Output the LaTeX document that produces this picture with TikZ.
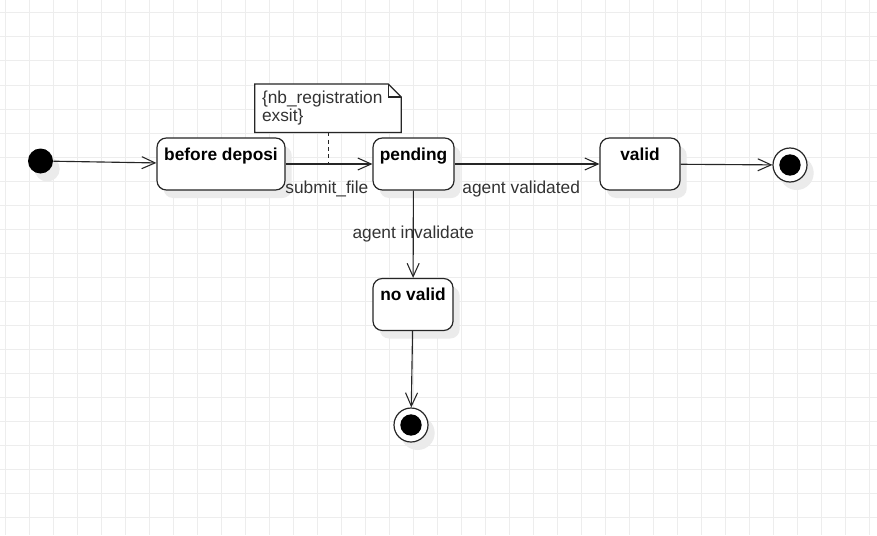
\documentclass[tikz,border=0pt]{standalone}
\usepackage{fontspec}
\setmainfont{Liberation Sans}
\usepackage{tikz}
\usetikzlibrary{arrows.meta,shadows}

\begin{document}
\begin{tikzpicture}[x=0.75pt,y=-0.75pt,font=\fontsize{13}{13.2}\selectfont]

	\tikzstyle{gridline}=[draw=black!7,line width=0.75pt]
	\tikzstyle{shade}=[drop shadow={shadow xshift=5pt,shadow yshift=-6pt,fill=black!8,opacity=1}]
	\tikzstyle{statebox}=[draw=black!85,fill=white,rectangle,rounded corners=7pt,line width=0.9pt,shade,inner sep=0pt,minimum width=60pt,text height=16.5pt,text depth=22.5pt,font=\fontsize{13}{13.2}\selectfont\bfseries]
	\tikzstyle{initdot}=[circle,fill=black,inner sep=0pt,minimum size=18.75pt,shade]
	\tikzstyle{finaldot}=[circle,draw=black!85,fill=white,line width=0.9pt,inner sep=0pt,minimum size=25.5pt,shade,path picture={\fill[black] (path picture bounding box.center) circle (8pt);}]
	\tikzstyle{notebox}=[inner xsep=5.25pt,inner ysep=0pt,text width=99pt,minimum height=36pt,align=left,text=black!80]
	\tikzstyle{flow}=[draw=black!85,line width=0.85pt,-{Straight Barb[length=10pt,width=9pt,line width=0.8pt]}]
	\tikzstyle{lbl}=[text=black!80]

	% background grid
	\fill[white] (0,0) rectangle (877,535);
	\useasboundingbox (0,0) rectangle (877,535);
	\foreach \gx in {5,29,...,869} \draw[gridline] (\gx,0) -- (\gx,535);
	\foreach \gy in {13,37,...,517} \draw[gridline] (0,\gy) -- (877,\gy);

	\node[initdot] (init) at (40.5,161) {};
	\node[statebox,minimum width=96pt] (before) at (221,164) {before deposi};
	\node[statebox,minimum width=60.75pt] (pending) at (413.5,164) {pending};
	\node[statebox] (valid) at (640,164) {valid};
	\node[statebox] (novalid) at (413,304.5) {no valid};
	\node[finaldot] (end1) at (790,165) {};
	\node[finaldot] (end2) at (411,425) {};

	% note with folded corner
	\node[notebox] (note) at (328,108.2) {\{nb\_registration\\exsit\}};
	\draw[draw=black!85,fill=white,line width=0.9pt] (note.south west) -- (note.south east) -- ([yshift=-9.75pt]note.north east) -- ([xshift=-9.75pt]note.north east) -- (note.north west) -- cycle;
	\draw[draw=black!85,line width=0.9pt] ([xshift=-9.75pt]note.north east) |- ([yshift=-9.75pt]note.north east);
	\node[notebox] at (note) {\{nb\_registration\\exsit\}};

	\draw[flow] (init) -- (before);
	\draw[flow] (before) -- coordinate (sub) (pending) node[lbl,pos=0.475,below=9pt] {submit\_file};
	\draw[flow] (pending) -- (valid) node[lbl,pos=0.46,below=9pt] {agent validated};
	\draw[flow] (valid) -- (end1);
	\draw[flow] (pending) -- (novalid) node[lbl,midway] {agent invalidate};
	\draw[flow] (novalid) -- (end2);

	\draw[draw=black!85,line width=0.75pt,dash pattern=on 3pt off 2.5pt] (note.south) -- (note.south |- sub);

\end{tikzpicture}
\end{document}
